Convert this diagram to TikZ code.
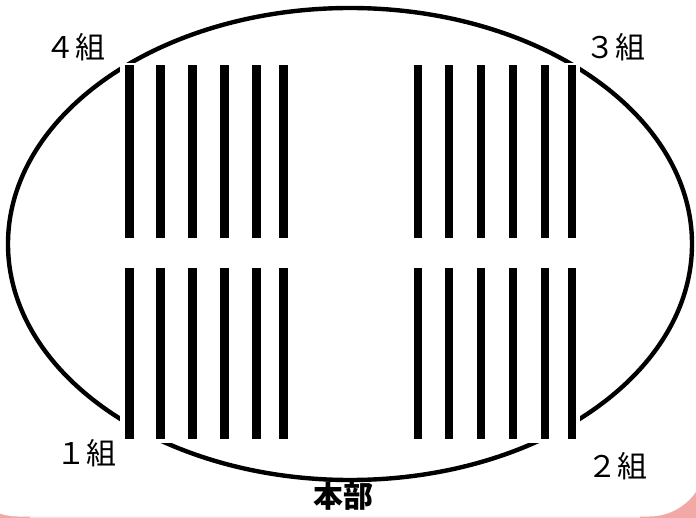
\documentclass[tikz,border=0pt]{standalone}
\usepackage{fontspec}
\newfontfamily\jpfont{Noto Sans CJK JP}
\usepackage{tikz}

\definecolor{slidepink}{HTML}{F2A8A4}
\definecolor{edgepink}{HTML}{FBE1E1}

\begin{document}
\begin{tikzpicture}[
    x=1bp, y=-1bp,
    bar/.style={fill=black, draw=none},
    mask/.style={fill=white, draw=none},
    grouplabel/.style={font=\jpfont\fontsize{30}{30}\selectfont, inner sep=0pt},
    hqlabel/.style={font=\jpfont\bfseries\fontsize{30}{30}\selectfont, inner sep=0pt}
]

% -------- Layout --------
\def\xleft{129.3}
\def\xright{417.7}
\def\barw{4.2}

\useasboundingbox (0,0) rectangle (696,518);
\clip (0,0) rectangle (696,518);

% -------- Slide background --------
\fill[slidepink] (0,0) rectangle (696,518);
\fill[edgepink] (30,514) rectangle (640,518);
\fill[white, rounded corners=57bp] (-39,-80) rectangle (706,516.5);

% -------- Ground --------
\draw[line width=4.4bp] (350,244) ellipse [x radius=342bp, y radius=236bp];

% -------- Groups of bars --------
\foreach \gx in {\xleft,\xright} {
    \foreach \gy/\gh in {65/238, 268/439} {
        \fill[mask] (\gx-9.5,\gy-2) rectangle (\gx+162,\gh+4);
        \foreach \dx in {0,31,63,95,127,154} {
            \fill[bar] (\gx+\dx-\barw,\gy) rectangle (\gx+\dx+\barw,\gh);
        }
    }
}

% -------- Labels --------
\node[grouplabel] (g4) at (75,47) {４組};
\node[grouplabel] (g3) at (615,47) {３組};
\node[grouplabel] (g1) at (86,453) {１組};
\node[grouplabel] (g2) at (617,466) {２組};
\node[hqlabel] (hq) at (343,496) {本部};

\end{tikzpicture}
\end{document}
